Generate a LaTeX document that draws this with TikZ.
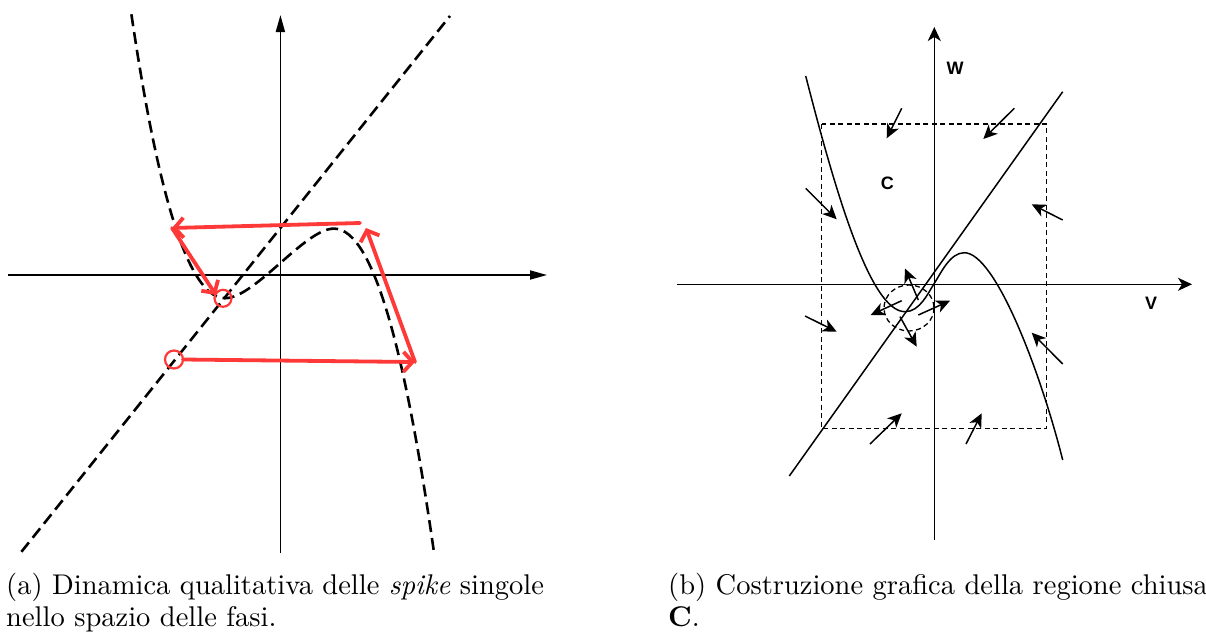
\documentclass[tikz,border=0pt]{standalone}
\usepackage{fontspec}
\setmainfont{lmroman10-regular.otf}[ItalicFont=lmroman10-italic.otf, BoldFont=lmroman10-bold.otf]
\newfontfamily\labelfont{Liberation Sans}
\usetikzlibrary{arrows.meta}
\definecolor{spikered}{RGB}{255,56,56}
\begin{document}
\begin{tikzpicture}[x=1pt,y=-1pt,
  axisL/.style={line width=1.8pt, -{Triangle[length=17pt,width=9pt]}},
  nullL/.style={line width=2.6pt, dash pattern=on 12pt off 6pt},
  redarrow/.style={spikered, line width=3.8pt, line cap=round, -{Straight Barb[length=9pt,width=20pt]}},
  redcirc/.style={spikered, line width=2.2pt},
  axisR/.style={line width=1.6pt, -{Stealth[length=14pt,width=13pt,inset=4pt]}},
  curveR/.style={line width=1.5pt},
  boxR/.style={line width=1.3pt, dash pattern=on 5pt off 3.5pt},
  flow/.style={line width=1.5pt, -{Stealth[length=14pt,width=13pt,inset=4pt]}},
  lab/.style={font=\labelfont\bfseries\fontsize{18}{20}\selectfont, inner sep=0pt},
  captext/.style={font=\fontsize{28.5}{34}\selectfont, inner sep=0pt, anchor=base west}
]
\useasboundingbox (0,0) rectangle (1206,632);
% ---------- panel (a) ----------
\coordinate (ax0) at (8,275);   \coordinate (ax1) at (547,275);
\coordinate (ay0) at (280.4,553); \coordinate (ay1) at (280.4,15);
\draw[axisL] (ax0) -- (ax1);
\draw[axisL] (ay0) -- (ay1);
\coordinate (d0) at (21.4,551.8); \coordinate (d1) at (450,16);
\draw[nullL] (d0) -- (d1);
\draw[nullL] (131.4,14.3) .. controls (150,140) and (180,298.2) .. (225,298.2)
  .. controls (255,298.2) and (305,228.6) .. (333.9,228.6)
  .. controls (375,228.6) and (406.7,361.8) .. (433.9,551.8);
\coordinate (c1) at (223,298.3);
\coordinate (c2) at (174,359.5);
\draw[redcirc] (c1) circle[radius=8.5];
\draw[redcirc] (c2) circle[radius=9];
\coordinate (r0) at (183,359.5);
\coordinate (r1) at (415,362);
\coordinate (r2) at (366,228);
\coordinate (r3) at (360,223);
\coordinate (r4) at (172,228);
\coordinate (r5) at (216,295);
\draw[redarrow] (r0) -- (r1);
\draw[redarrow] (r1) -- (r2);
\draw[redarrow] (r3) -- (r4);
\draw[redarrow] (r4) -- (r5);
% ---------- panel (b) ----------
\coordinate (bx0) at (677,284.3); \coordinate (bx1) at (1192,284.3);
\coordinate (by0) at (934.3,540); \coordinate (by1) at (934.3,27);
\draw[axisR] (bx0) -- (bx1);
\draw[axisR] (by0) -- (by1);
\draw[boxR] (821.7,124) rectangle (1046.7,428.3);
\draw[curveR] (805.7,76) .. controls (835,190) and (870,311.7) .. (905,311.7)
  .. controls (920,311.7) and (928,293) .. (934.5,283)
  .. controls (941,273) and (950,252.7) .. (964.3,252.7)
  .. controls (995,252.7) and (1040,370) .. (1062.7,460);
\coordinate (l0) at (789.3,476); \coordinate (l1) at (1062.7,91.7);
\draw[curveR] (l0) -- (l1);
\draw[boxR] (909,308) ellipse[x radius=25, y radius=23];
% flow arrows
\draw[flow] (901.7,108.3) -- (886.7,138.3);
\draw[flow] (1014.3,108.3) -- (983.3,139);
\draw[flow] (805.7,188.3) -- (836.7,219.3);
\draw[flow] (1062.7,220) -- (1031.7,204.3);
\draw[flow] (805,316) -- (836.7,331.7);
\draw[flow] (1062.7,364) -- (1031.7,332.7);
\draw[flow] (870,444) -- (901.7,413.3);
\draw[flow] (966,444) -- (981.7,413.3);
\draw[flow] (918.3,300) -- (905,268.5);
\draw[flow] (901.7,300.7) -- (870.7,315);
\draw[flow] (900,316.7) -- (916.7,346.7);
\draw[flow] (918.3,315) -- (950,300.7);
\node[lab] (W) at (955,68) {W};
\node[lab] (C) at (887.3,183.3) {C};
\node[lab] (V) at (1151,303.3) {V};
% ---------- captions ----------
\node[captext] (capa1) at (6,594) {(a) Dinamica qualitativa delle \textit{spike} singole};
\node[captext] (capa2) at (6,626) {nello spazio delle fasi.};
\node[captext] (capb1) at (668,594) {(b) Costruzione grafica della regione chiusa};
\node[captext] (capb2) at (668,626) {\textbf{C}.};
\end{tikzpicture}
\end{document}
